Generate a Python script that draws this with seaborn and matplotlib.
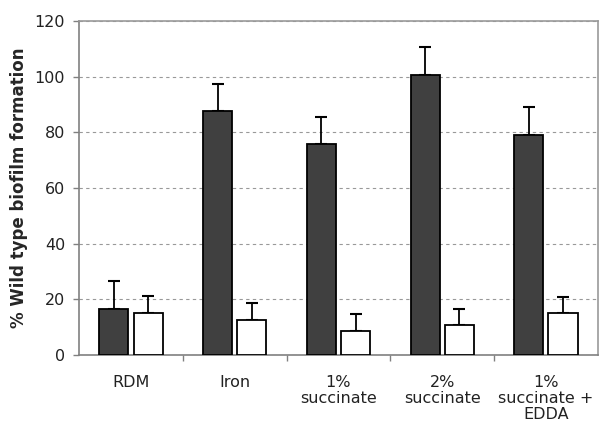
import numpy as np
import pandas as pd
import seaborn as sns
import matplotlib.pyplot as plt
from matplotlib.ticker import FixedLocator

conditions = ["RDM", "Iron", "1%\nsuccinate", "2%\nsuccinate", "1%\nsuccinate +\nEDDA"]
series = ["Series 1", "Series 2"]
dark_values = [16.5, 87.7, 75.8, 100.5, 79.2]
dark_errors = [10.1, 9.8, 9.8, 10.1, 9.8]
white_values = [15.3, 12.6, 8.7, 10.7, 15.0]
white_errors = [6.1, 6.0, 6.0, 5.8, 6.0]

colors = {"Series 1": "#404040", "Series 2": "#ffffff"}

df = pd.DataFrame({
    "condition": conditions * 2,
    "series": [series[0]] * 5 + [series[1]] * 5,
    "value": dark_values + white_values,
})

sns.set_style("white")
plt.rcParams["font.family"] = ["DejaVu Sans"]

fig = plt.figure(figsize=(5.99, 4.30), dpi=100)
ax = fig.add_axes([0.132, 0.174, 0.866, 0.777])

sns.barplot(
    data=df, x="condition", y="value", hue="series", order=conditions,
    hue_order=series, palette=colors, width=0.66, gap=0.15,
    edgecolor="black", linewidth=1.3, errorbar=None, legend=False, ax=ax,
    zorder=3
)

# error bars (upper only) on top of each bar
errs = {series[0]: dark_errors, series[1]: white_errors}
vals = {series[0]: dark_values, series[1]: white_values}
for cont, name in zip(ax.containers, series):
    xs = [p.get_x() + p.get_width() / 2 for p in cont.patches]
    e = errs[name]
    ax.errorbar(xs, vals[name], yerr=[np.zeros(len(e)), e], fmt="none",
                ecolor="black", elinewidth=1.3, capsize=4.5, capthick=1.5,
                zorder=2)

ax.set_xlim(-0.5, len(conditions) - 0.5)
ax.set_ylim(0, 120)
ax.set_yticks(np.arange(0, 121, 20))
ax.yaxis.grid(True, linestyle=(0, (3, 3)), color="#999999", linewidth=0.8, zorder=0)
ax.set_axisbelow(True)

for s in ax.spines.values():
    s.set_color("#999999")
    s.set_linewidth(1.2)
    s.set_visible(True)
ax.spines["left"].set_color("#808080")
ax.spines["bottom"].set_color("#808080")

ax.tick_params(axis="y", left=True, length=4, width=1, color="#808080",
               labelsize=11.5, pad=6, labelcolor="#222222")
ax.tick_params(axis="x", which="major", bottom=False, length=0, labelsize=11.5,
               pad=14, labelcolor="#222222")
ax.xaxis.set_minor_locator(FixedLocator(np.arange(0.5, len(conditions) - 0.5, 1)))
ax.tick_params(axis="x", which="minor", bottom=True, length=4, width=1, color="#808080")
for lbl in ax.get_xticklabels():
    lbl.set_verticalalignment("top")
    lbl.set_linespacing(1.1)

ax.set_xlabel("")
ax.set_ylabel("% Wild type biofilm formation", fontsize=12, fontweight="bold", labelpad=5)

fig.savefig("out.png", dpi=100)
